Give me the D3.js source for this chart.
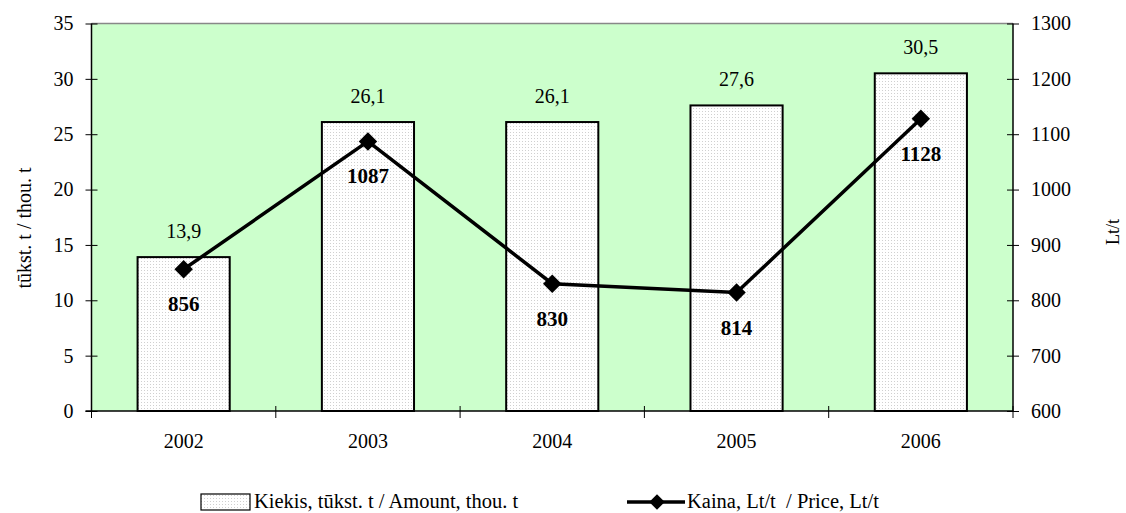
<!DOCTYPE html>
<html><head><meta charset="utf-8">
<script src="https://cdn.jsdelivr.net/npm/d3@7"></script>
<style>body{margin:0;background:#fff;} text{font-family:"Liberation Serif","Times New Roman",serif;}</style>
</head><body>
<svg id="c" width="1126" height="513"></svg>
<script>
const years = ["2002","2003","2004","2005","2006"];
const amount = [13.9, 26.1, 26.1, 27.6, 30.5];
const amountLabels = ["13,9","26,1","26,1","27,6","30,5"];
const price = [856, 1087, 830, 814, 1128];
const leftTicks = [0,5,10,15,20,25,30,35];
const rightTicks = [600,700,800,900,1000,1100,1200,1300];

const svg = d3.select("#c");
const L = 91.5, R = 1013, T = 23.5, B = 411;
const FS = 20;
const x = d3.scaleBand().domain(years).range([L, R]).paddingInner(0.5).paddingOuter(0.25);
const xc = d3.scaleBand().domain(years).range([L, R]);
const yL = d3.scaleLinear().domain([0,35]).range([B, T]);
const yR = d3.scaleLinear().domain([600,1300]).range([B, T]);

const defs = svg.append("defs");
const pat = defs.append("pattern").attr("id","dots").attr("width",3).attr("height",3).attr("patternUnits","userSpaceOnUse");
pat.append("rect").attr("width",3).attr("height",3).attr("fill","#fff");
pat.append("rect").attr("width",1).attr("height",1).attr("fill","#d0d0d0");

svg.append("rect").attr("x",L).attr("y",T).attr("width",R-L).attr("height",B-T).attr("fill","#ccffcc");
svg.append("line").attr("x1",L).attr("x2",R).attr("y1",T).attr("y2",T).attr("stroke","#888").attr("stroke-width",1.5);

// bars
svg.selectAll("rect.bar").data(years).enter().append("rect").attr("class","bar")
  .attr("x", d=>x(d)).attr("width", x.bandwidth())
  .attr("y", (d,i)=>yL(amount[i])).attr("height",(d,i)=>B-yL(amount[i]))
  .attr("fill","url(#dots)").attr("stroke","#000").attr("stroke-width",2);

// axes
const axL = d3.axisLeft(yL).tickValues(leftTicks).tickFormat(d3.format("d")).tickSize(6).tickPadding(12);
const gL = svg.append("g").attr("transform",`translate(${L},0)`).call(axL);
const axR = d3.axisRight(yR).tickValues(rightTicks).tickFormat(d3.format("d")).tickSize(6).tickPadding(12);
const gR = svg.append("g").attr("transform",`translate(${R},0)`).call(axR);
const axB = d3.axisBottom(xc).tickSize(0).tickPadding(23);
const gB = svg.append("g").attr("transform",`translate(0,${B})`).call(axB);
[gL,gR,gB].forEach(g=>{
  g.attr("font-family",null).attr("font-size",FS);
  g.select(".domain").attr("stroke","#000").attr("stroke-width",1.5);
  g.selectAll("text").attr("font-size",FS).attr("fill","#000");
  g.selectAll(".tick line").attr("stroke","#000");
});
gL.selectAll(".tick line").attr("x1",6);
gR.selectAll(".tick line").attr("x1",-6);
gL.select(".domain").attr("d",`M0,${T}V${B}`);
gR.select(".domain").attr("d",`M0,${T}V${B}`);
gB.select(".domain").attr("d",`M${L-6},0H${R}`);
// category boundary ticks
const bounds = years.map(d=>xc(d)).concat([R]);
svg.selectAll("line.ct").data(bounds).enter().append("line").attr("class","ct")
  .attr("x1",d=>d).attr("x2",d=>d).attr("y1",B-5).attr("y2",B+7).attr("stroke","#000").attr("stroke-width",1);

// amount labels
svg.selectAll("text.al").data(years).enter().append("text").attr("class","al")
  .attr("x", d=>xc(d)+xc.bandwidth()/2).attr("y",(d,i)=>yL(amount[i])-19)
  .attr("text-anchor","middle").attr("font-size",FS).text((d,i)=>amountLabels[i]);

// price line
const cx = d=>xc(d)+xc.bandwidth()/2;
svg.append("path").datum(years).attr("fill","none").attr("stroke","#000").attr("stroke-width",3.5)
  .attr("d", d3.line().x(d=>cx(d)).y((d,i)=>yR(price[i])));
svg.selectAll("path.mk").data(years).enter().append("path").attr("class","mk")
  .attr("d", d3.symbol().type(d3.symbolSquare).size(170))
  .attr("transform",(d,i)=>`translate(${cx(d)},${yR(price[i])}) rotate(45)`);
svg.selectAll("text.pl").data(years).enter().append("text").attr("class","pl")
  .attr("x", d=>cx(d)).attr("y",(d,i)=>yR(price[i])+42)
  .attr("text-anchor","middle").attr("font-size",21).attr("font-weight","bold").text((d,i)=>price[i]);

// axis titles
svg.append("text").attr("transform","translate(31,228) rotate(-90)").attr("text-anchor","middle").attr("font-size",FS).text("tūkst. t / thou. t");
svg.append("text").attr("transform","translate(1119,232) rotate(-90)").attr("text-anchor","middle").attr("font-size",18).text("Lt/t");

// legend
const ly = 502;
svg.append("rect").attr("x",201).attr("y",494).attr("width",49).attr("height",16).attr("fill","url(#dots)").attr("stroke","#000").attr("stroke-width",1.2);
svg.append("text").attr("x",254).attr("y",508).attr("font-size",20.5).text("Kiekis, tūkst. t / Amount, thou. t");
svg.append("line").attr("x1",627).attr("x2",685).attr("y1",ly).attr("y2",ly).attr("stroke","#000").attr("stroke-width",3.5);
svg.append("path").attr("d", d3.symbol().type(d3.symbolSquare).size(120)).attr("transform",`translate(657,${ly}) rotate(45)`);
svg.append("text").attr("x",687).attr("y",508).attr("font-size",20.5).attr("xml:space","preserve").text("Kaina, Lt/t  / Price, Lt/t");
</script>
</body></html>
